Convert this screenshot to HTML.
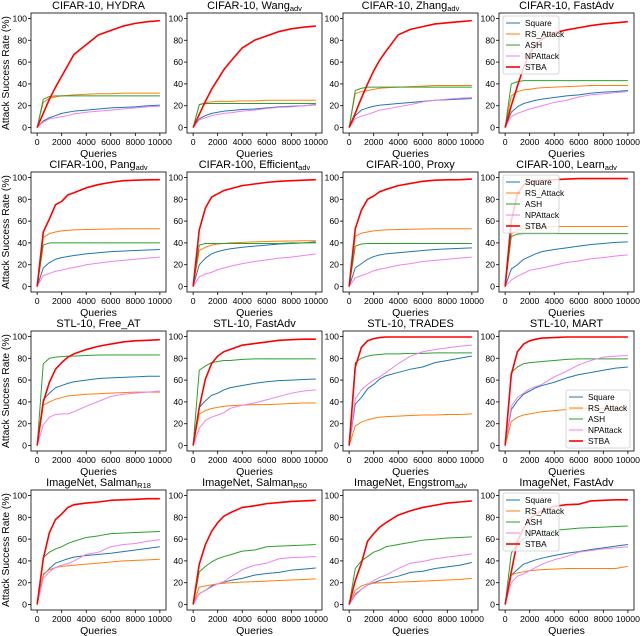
<!DOCTYPE html>
<html><head><meta charset="utf-8">
<style>
body{margin:0;background:#fff;}
svg{display:block;font-family:"Liberation Sans",sans-serif;}
</style></head>
<body>
<svg id="fig" width="640" height="636" viewBox="0 0 640 636"></svg>
<script>
const xQueries=[0,500,1000,1500,2000,2500,3000,4000,5000,6000,7000,8000,9000,10000];
const seriesNames=["Square","RS_Attack","ASH","NPAttack","STBA"];
const seriesColors=["#1f77b4","#ff7f0e","#2ca02c","#ee82ee","#ff0000"];
const panelTitles=[["CIFAR-10, HYDRA",""],["CIFAR-10, Wang","adv"],["CIFAR-10, Zhang","adv"],["CIFAR-10, FastAdv",""],
["CIFAR-100, Pang","adv"],["CIFAR-100, Efficient","adv"],["CIFAR-100, Proxy",""],["CIFAR-100, Learn","adv"],
["STL-10, Free_AT",""],["STL-10, FastAdv",""],["STL-10, TRADES",""],["STL-10, MART",""],
["ImageNet, Salman","R18"],["ImageNet, Salman","R50"],["ImageNet, Engstrom","adv"],["ImageNet, FastAdv",""]];
const yTicks=[0,20,40,60,80,100];
const xTicks=[0,2000,4000,6000,8000,10000];
const squareVals=[
[0,6,9,11,13,14,15,16,17,18,18.5,19,20,20.5],
[0,8,11,13,14,15,15.5,16.5,17,18,19,19.5,20,21],
[0,11,16,18,19.5,20.5,21,22,23,24,25,25.5,26,26.5],
[0,14,19,22,23.5,25,26,27.5,29,30,31.5,32.5,33,34],
[0,17,22,25,26.5,27.5,28.5,30,31,32,32.5,33,33.5,34],
[0,20,26,30,32,33.5,34.5,36,37,38,39,39.5,40,41],
[0,17,21,25,27.5,29,30,31,32,33,34,34.5,35,35.5],
[0,16,20,25,27.5,30,32,34,35.5,37,38.5,39.5,40.5,41],
[0,42,48,53,55,57,58.5,60,61.5,62,62.5,63,63.5,63.5],
[0,35,41,46,48,51,53,55,57,58.5,59.5,60,60.5,61],
[0,38,44,52,56,61,64,67,70,72,76,78,80,82],
[0,33,41,47,50,53,55,58,62,65,67,69,71,72],
[0,27,33,38,40,42,43.5,45,46,47,48.5,50,51.5,53],
[0,10,13,17,19,20.5,22,24,27,28.5,29.5,31.5,32.5,33.5],
[0,9,14,18,20,22,23.5,26,29.5,30.5,33,34.5,36,38.5],
[0,27,32,37,39,41,42.5,45,47,48.5,50.5,52,53.5,55]];
const rsVals=[
[0,23,27,28,29,29.5,30,30.5,31,31,31.5,31.5,31.5,31.5],
[0,21,23,23.5,24,24,24,24.5,24.5,25,25,25,25,25],
[0,31,33,34,35,36,36.5,37,37.5,38,38.5,38.5,38.5,38.5],
[0,29,33,34.5,35,36,36.5,37,37.5,38,38.5,38.5,38.5,38.5],
[0,45,48.5,50,51,51.5,52,52.3,52.5,52.7,53,53,53,53],
[0,33,36,38,39,39.5,40,40.5,41,41.3,41.6,41.8,42,42],
[0,46,49,50,51,51.5,52,52.3,52.5,52.8,53,53,53,53],
[0,48,52,53,54,54.5,54.5,55,55,55,55,55,55,55],
[0,37,40,42.5,44,45.5,46,47,47.5,48,48.5,49,49,49],
[0,29,32,34,35,36,36.5,37,37.5,37.5,38,38.5,39,39],
[0,18,21.5,23.5,25,26,26.5,27,27.5,28,28,28.5,28.5,29],
[0,22,26,28,29,30,31,32,33,33.5,34,34,34,34],
[0,28,32,34,35,35.5,36,37,38,39,40,40.5,41,41.5],
[0,16,17,18,19,19.5,20,20.5,21,21.5,22,22.5,23,23.5],
[0,13,17,19,19.5,20,20,20.5,21,21.5,22,22.5,23,24],
[0,27,29,30,31,31.5,32,32.5,33,33,33,33,33,35]];
const ashVals=[
[0,26,28.5,29,29,29,29,29,29,29,29,29,29,29],
[0,21,22,22,22,22,22,22,22,22,22,22,22,22],
[0,34,36,37,37,37,37,37,37,37,37,37,37,37],
[0,40,42,43,43,43,43,43,43,43,43,43,43,43],
[0,38,40,40,40,40,40,40,40,40,40,40,40,40],
[0,38,39.5,39.5,39.5,39.5,39.5,39.5,39.5,39.5,39.5,40,40,40],
[0,37,39,39.5,39.5,39.5,39.5,39.5,39.5,39.5,39.5,39.5,39.5,39.5],
[0,46,48,48.5,48.5,48.5,48.5,48.5,48.5,48.5,48.5,48.5,48.5,48.5],
[0,75,80,81,81.5,82,82,82.5,83,83,83,83,83,83],
[0,69,73,76,77,78,78,79,79.5,79.5,79.5,79.5,79.5,79.5],
[0,76,80,82,83,83.5,84,84,84.5,84.5,85,85,85,85],
[0,67,72,75,76,76.5,77,78,79,79.5,79.5,79.5,79.5,79.5],
[0,43,48,51,53,56,58,61.5,63,65,65.5,66,66.5,67],
[0,30,35,39,42,44,45.5,49,50,53,53.5,54,54.5,55],
[0,33,40,44,48,50,53,55,57,59,60,61,61.5,62],
[0,47,56,60,63,65,66.5,68,69,70,70.5,71,71.5,72]];
const npVals=[
[0,5,8,9,10,11,12.5,14,15,16,17,18,19,19.5],
[0,7,9,11,12,13,13.5,15,16,17.5,18.5,19,20,20.5],
[0,8,10.5,12,14,16,17,19,21,23.5,25,26,27,27.5],
[0,10,13,15,17,18.5,20,23,25,28,30,31,32,33],
[0,10,12,14,15,16.5,17.5,20,21.5,23,24,25,26,27],
[0,9,11.5,13,15.5,17,18.5,21,23,24.5,26,27,28.5,30],
[0,8,10,12,14.5,16,17,19.5,21,23,24,25,26,27],
[0,6,9.5,12,15,16,17,19.5,22,23.5,25.5,26.5,28,29],
[0,19,26,28.5,29,29,31,36,40.5,45,47,48,49,50],
[0,16,23,26,28,30,34,37,39,42,45,48,50,51],
[0,43,51,56,60,63,67,75,82,86,88,89.5,91,92],
[0,36,44,48,52,54,56,63,68,74,78,81,82,82.5],
[0,24,30,34,36,37.5,40,46,48,53,55,56,58,59.5],
[0,10,13,16,19,21,25,32,36,38,42,43,43.5,44],
[0,10,14,18,22,25,27,33,38,39.5,42,43.5,45,46.5],
[0,20,26,28,31,34,37,41,44,48,49.5,51,52,53]];
const stbaVals=[
[0,13,26,37,47,57,67,76,85,89,93,95.5,97,98],
[0,12,24,35,44,53,60,73,80,84,88,90.5,92,93],
[0,13,27,40,52,62,70,85,90,92.5,95,96,97,98],
[0,20,38,55,68,76,81,87,89.5,91.5,93.5,95,96,97],
[0,50,62,75,78,84,86,90.5,93.5,95.5,97,97.5,97.8,98],
[0,52,72,82,85,88,89.5,92.5,94,95.5,96.5,97,97.5,98],
[0,53,70,80,83,87,89,92.5,94.5,96.5,97.5,97.8,98,98.5],
[0,60,85,93,96,97,97.5,98,98.5,99,99,99,99,99],
[0,40,58,70,76,81,84,88,91,93,95,96,96.5,97],
[0,35,61,75,82,86,88,92,93.5,95,96.5,97,97.5,97.5],
[0,72,90,96,98,99,99.5,99.5,99.5,99.5,99.5,99.5,99.5,99.5],
[0,65,86,93,96,97.5,98.5,99,99.5,99.5,99.5,99.5,99.5,99.5],
[0,42,66,78,83,89,91.5,93,94,95.5,96,96.5,97,97],
[0,37,55,67,75,81,84,89,90.5,92.5,93.5,94.5,95,95.5],
[0,22,38,58,65,71,75,82,86,89,91,93,94,95],
[0,30,58,70,78,83,86,90,91.5,92,95,95.5,96,96]];
const allSeries=[squareVals,rsVals,ashVals,npVals,stbaVals];

const NS="http://www.w3.org/2000/svg";
const svg=document.getElementById('fig');
const lefts=[31,187,343,499], tops=[13,172,331,490], W=135, H=120;
function mk(tag,attrs,parent){const e=document.createElementNS(NS,tag);for(const k in attrs)e.setAttribute(k,attrs[k]);parent.appendChild(e);return e;}

for(let p=0;p<16;p++){
  const r=Math.floor(p/4), c=p%4, L=lefts[c], T=tops[r];
  const xs=v=>L+(v+500)/11000*W;
  const ys=v=>T+H-(v+5)/110*H;
  const g=mk('g',{},svg);
  
  
  const t=mk('text',{x:L+W/2,y:T-4,'text-anchor':'middle','font-size':'11',fill:'#000'},g);
  
  
  t.textContent=panelTitles[p][0];
  if(panelTitles[p][1]){const s=mk('tspan',{'font-size':'7.5','dy':'2'},t);s.textContent=panelTitles[p][1];}
  yTicks.forEach(v=>{
    mk('line',{x1:L-3,x2:L,y1:ys(v),y2:ys(v),stroke:'#000','stroke-width':'0.8'},g);
    const tl=mk('text',{x:L-4,y:ys(v)+3,'text-anchor':'end','font-size':'8.7'},g);
    
    
    tl.textContent=v;
  });
  xTicks.forEach(v=>{
    mk('line',{x1:xs(v),x2:xs(v),y1:T+H,y2:T+H+3,stroke:'#000','stroke-width':'0.8'},g);
    const tl=mk('text',{x:xs(v),y:T+H+12,'text-anchor':'middle','font-size':'8.7'},g);
    
    
    tl.textContent=v;
  });
  const xl=mk('text',{x:L+W/2,y:T+H+24,'text-anchor':'middle','font-size':'10.5'},g);
  
  
  xl.textContent='Queries';
  if(c===0){
    const yl=mk('text',{x:0,y:0,'text-anchor':'middle','font-size':'10.3',transform:`translate(9,${T+H/2}) rotate(-90)`},g);
    
    
    yl.textContent='Attack Success Rate (%)';
  }
  for(let s=0;s<5;s++){
    const vals=allSeries[s][p];
    const d=vals.map((v,i)=>(i?'L':'M')+xs(xQueries[i]).toFixed(2)+','+ys(v).toFixed(2)).join('');
    const pa=mk('path',{d:d,fill:'none',stroke:seriesColors[s],'stroke-width':s===4?'1.6':'1','stroke-linejoin':'round'},g);
    
    
  }
  mk('rect',{x:L,y:T,width:W,height:H,fill:'none',stroke:'#000','stroke-width':'0.8'},g);
  if(c===3){
    let lx, ly;
    if(r===2){lx=566;ly=T+59;}else{lx=503;ly=T+3;}
    const lg=mk('g',{},g);
    
    
    mk('rect',{x:lx,y:ly,width:r===2?64:56,height:58,fill:'#fff','fill-opacity':'0.8',stroke:'#ccc','stroke-width':'0.8',rx:'2'},lg);
    seriesNames.forEach((n,i)=>{
      const yy=ly+7+i*11;
      mk('line',{x1:lx+3,x2:lx+17,y1:yy,y2:yy,stroke:seriesColors[i],'stroke-width':i===4?'1.6':'1'},lg);
      const lt=mk('text',{x:lx+22,y:yy+3,'font-size':'8.3'},lg);
      
      
      lt.textContent=n;
    });
  }
}
</script>
</body></html>
